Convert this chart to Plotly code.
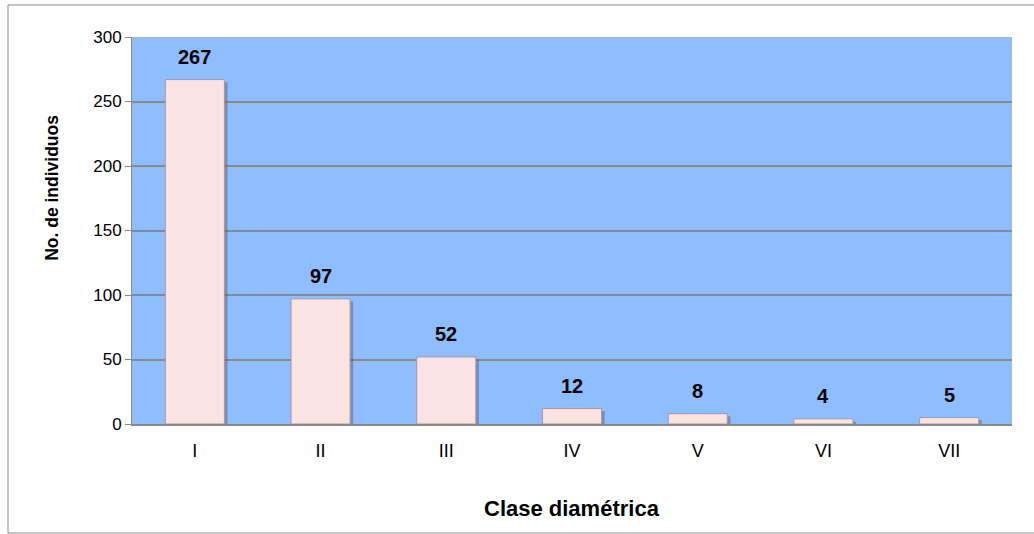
import plotly.graph_objects as go

# Individuals per diameter class
clases = ["I", "II", "III", "IV", "V", "VI", "VII"]
individuos = [267, 97, 52, 12, 8, 4, 5]
y_ticks = [0, 50, 100, 150, 200, 250, 300]

FONT = "Arial, Liberation Sans, sans-serif"
BAR_W = 0.47

fig = go.Figure()

# soft drop shadow under each bar
fig.add_trace(go.Bar(
    x=clases, y=individuos, base=[-2] * len(clases),
    width=BAR_W, offset=-BAR_W / 2 + 0.025,
    marker=dict(color="rgba(60,60,80,0.35)", line=dict(width=0)),
    hoverinfo="skip", showlegend=False,
))

# main bars
fig.add_trace(go.Bar(
    x=clases, y=individuos,
    width=BAR_W, offset=-BAR_W / 2,
    marker=dict(color="#FCE3E3", line=dict(color="#B39494", width=1)),
    showlegend=False,
))

# value labels above bars
for c, v in zip(clases, individuos):
    fig.add_annotation(x=c, y=v, text=f"<b>{v}</b>", showarrow=False,
                       yanchor="bottom", yshift=10,
                       font=dict(family=FONT, size=20, color="black"))

# axis titles
fig.add_annotation(xref="paper", yref="paper", x=-0.091, y=0.61,
                   xanchor="center", yanchor="middle",
                   text="<b>No. de individuos</b>", textangle=-90, showarrow=False,
                   font=dict(family=FONT, size=17.5, color="black"))
fig.add_annotation(xref="paper", yref="paper", x=0.5, y=-0.2196,
                   xanchor="center", yanchor="middle",
                   text="<b>Clase diamétrica</b>", showarrow=False,
                   font=dict(family=FONT, size=22, color="black"))

# outer chart frame
fig.add_shape(type="rect", xref="paper", yref="paper",
              x0=-0.1409, x1=1.04, y0=-0.2817, y1=1.0827,
              line=dict(color="#8A8A8A", width=1), layer="below")

fig.update_layout(
    width=1034, height=534,
    margin=dict(l=132, r=22, t=37, b=110),
    paper_bgcolor="white", plot_bgcolor="#8EBEFF",
    barmode="overlay",
    font=dict(family=FONT, size=17, color="black"),
)
fig.update_xaxes(
    type="category", showgrid=False, ticks="", showline=True,
    linecolor="#8A8A8A", linewidth=2, tickfont=dict(size=18), ticklabelstandoff=9,
    range=[-0.5, 6.5],
)
fig.update_yaxes(
    range=[0, 300], tickvals=y_ticks, showgrid=True, gridcolor="#8A8A8A", gridwidth=1.5,
    showline=True, linecolor="#8A8A8A", linewidth=1, ticks="outside", ticklen=6,
    tickcolor="#8A8A8A", zeroline=False, tickfont=dict(size=17), mirror=False,
)

fig.write_html("out.html")
